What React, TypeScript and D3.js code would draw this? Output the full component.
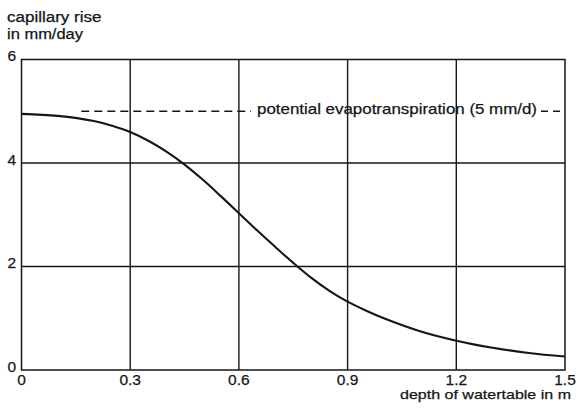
import React from "react";
import * as d3 from "d3";

const depth = [0, 0.1, 0.2, 0.25, 0.3, 0.35, 0.4, 0.45, 0.5, 0.55, 0.6, 0.65, 0.7, 0.75, 0.8, 0.85, 0.9, 0.95, 1.0, 1.1, 1.2, 1.3, 1.4, 1.5];
const rise = [4.95, 4.91, 4.81, 4.72, 4.6, 4.43, 4.22, 3.97, 3.68, 3.36, 3.03, 2.7, 2.38, 2.07, 1.78, 1.53, 1.32, 1.15, 1.0, 0.75, 0.567, 0.43, 0.33, 0.26];
const xTicks = [0, 0.3, 0.6, 0.9, 1.2, 1.5];
const xTickLabels = ["0", "0.3", "0.6", "0.9", "1.2", "1.5"];
const yTicks = [0, 2, 4, 6];
const potentialET = 5;
const etLabel = "potential evapotranspiration (5 mm/d)";
const yTitle = ["capillary rise", "in mm/day"];
const xTitle = "depth of watertable in m";

const W = 579;
const H = 408;
const FONT = "'Liberation Sans', Arial, Helvetica, sans-serif";
const INK = "#161616";

export default function App() {
  const x = d3.scaleLinear().domain([0, 1.5]).range([21.5, 565]);
  const y = d3.scaleLinear().domain([0, 6]).range([370, 59.5]);
  const pts = depth.map((d, i) => [d, rise[i]] as [number, number]);
  const line = d3
    .line<[number, number]>()
    .x((d) => x(d[0]))
    .y((d) => y(d[1]))
    .curve(d3.curveCatmullRom.alpha(0.5));

  const etY = y(potentialET);
  const textStart = 257;
  const textEnd = 537;
  const textStyle = { stroke: INK, strokeWidth: 0.25 };

  return (
    <svg
      width={W}
      height={H}
      style={{ position: "absolute", left: 0, top: 0, background: "#fff" }}
      fontFamily={FONT}
    >
      {/* grid */}
      {xTicks.slice(1, -1).map((t) => (
        <line key={"vx" + t} x1={x(t)} x2={x(t)} y1={y(6)} y2={y(0)} stroke={INK} strokeWidth={1.4} />
      ))}
      {yTicks.slice(1, -1).map((t) => (
        <line key={"hy" + t} x1={x(0)} x2={x(1.5)} y1={y(t)} y2={y(t)} stroke={INK} strokeWidth={1.4} />
      ))}
      {/* frame */}
      <rect x={x(0)} y={y(6)} width={x(1.5) - x(0)} height={y(0) - y(6)} fill="none" stroke={INK} strokeWidth={1.5} />

      {/* potential ET dashed line */}
      <line x1={x(0.165)} x2={textStart - 6} y1={etY} y2={etY} stroke={INK} strokeWidth={1.3} strokeDasharray="8 5" />
      <line x1={textEnd + 4} x2={x(1.5)} y1={etY} y2={etY} stroke={INK} strokeWidth={1.3} strokeDasharray="7 5" />
      <text x={textStart} y={etY + 3} fontSize={15} fill={INK} style={textStyle} textLength={textEnd - textStart} lengthAdjust="spacingAndGlyphs">
        {etLabel}
      </text>

      {/* curve */}
      <path d={line(pts) || ""} fill="none" stroke={INK} strokeWidth={2.1} />

      {/* y ticks */}
      {yTicks.map((t) => (
        <text key={"yl" + t} x={16} y={y(t) + 1.5} fontSize={15.5} textAnchor="end" fill={INK} style={textStyle}>
          {t}
        </text>
      ))}
      {/* x ticks */}
      {xTicks.map((t, i) => (
        <text key={"xl" + t} x={x(t)} y={385} fontSize={15.5} textAnchor="middle" fill={INK} style={textStyle}>
          {xTickLabels[i]}
        </text>
      ))}

      {/* titles */}
      <text x={7} y={22} fontSize={14} fill={INK} style={textStyle} textLength={94.5} lengthAdjust="spacingAndGlyphs">{yTitle[0]}</text>
      <text x={7} y={38.5} fontSize={14} fill={INK} style={textStyle} textLength={76} lengthAdjust="spacingAndGlyphs">{yTitle[1]}</text>
      <text x={400} y={399} fontSize={13} fill={INK} style={textStyle} textLength={171} lengthAdjust="spacingAndGlyphs">{xTitle}</text>
    </svg>
  );
}
